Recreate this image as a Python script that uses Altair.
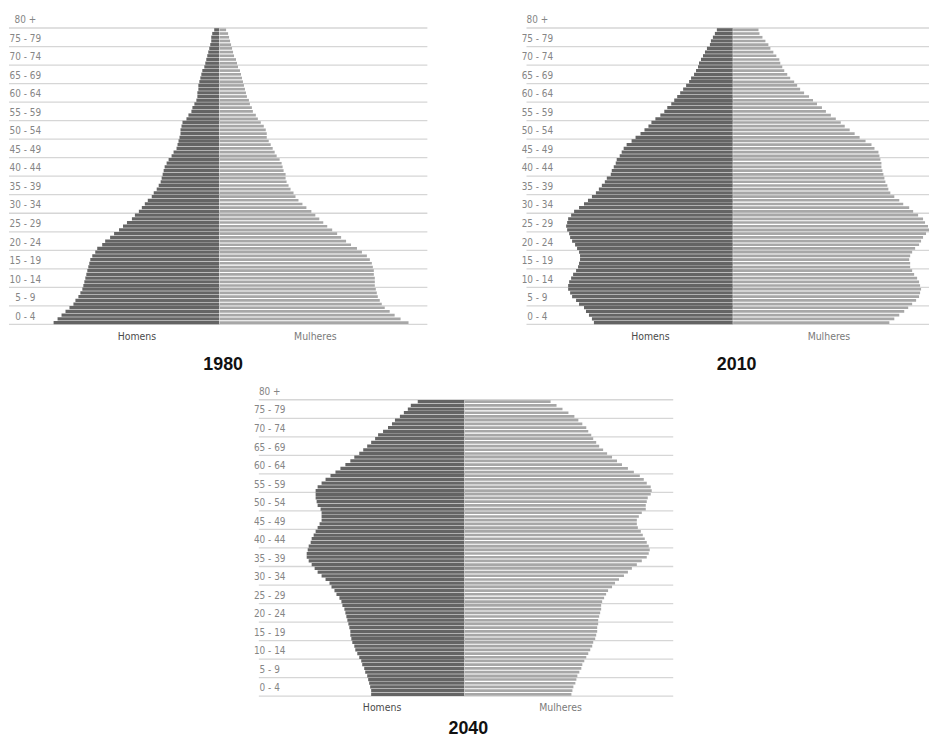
import altair as alt
import pandas as pd

# Age-group labels (bottom to top)
group_labels = ["0 - 4", "5 - 9", "10 - 14", "15 - 19", "20 - 24", "25 - 29", "30 - 34",
                "35 - 39", "40 - 44", "45 - 49", "50 - 54", "55 - 59", "60 - 64",
                "65 - 69", "70 - 74", "75 - 79", "80 +"]
group_low = [0, 5, 10, 15, 20, 25, 30, 35, 40, 45, 50, 55, 60, 65, 70, 75, 80]

# single-year ages, listed from the top bar (age 79) down to age 0
ages_top_down = list(range(79, -1, -1))

years = ["1980", "2010", "2040"]

men_1980 = [5, 7, 8, 8, 9, 10, 11, 12, 13, 14, 15, 17, 18, 19, 20, 21, 21, 22, 22, 23,
            25, 27, 28, 31, 33, 37, 38, 39, 39, 40, 41, 42, 43, 46, 48, 51, 53, 55, 56, 57,
            58, 59, 61, 63, 66, 68, 72, 75, 78, 81, 85, 88, 93, 97, 101, 106, 110, 115, 118, 123,
            125, 128, 130, 131, 132, 133, 134, 135, 136, 137, 138, 140, 142, 145, 147,
            151, 155, 159, 163, 167]
women_1980 = [7, 9, 10, 11, 12, 13, 14, 15, 17, 18, 19, 21, 22, 23, 24, 25, 26, 27, 28, 30,
              31, 33, 34, 37, 39, 42, 45, 47, 48, 48, 50, 52, 54, 56, 58, 61, 63, 64, 65, 67,
              67, 68, 70, 72, 75, 77, 80, 84, 88, 93, 97, 101, 105, 109, 114, 119, 123, 128, 133, 139,
              144, 149, 152, 154, 155, 156, 156, 157, 157, 157, 158, 159, 160, 162, 164,
              167, 172, 177, 183, 191]

men_2010 = [16, 18, 20, 22, 23, 26, 28, 30, 32, 34, 35, 37, 39, 42, 44, 47, 50, 53, 56, 59,
            62, 66, 69, 73, 78, 82, 85, 89, 93, 98, 102, 107, 110, 112, 114, 117, 118, 120, 122, 123,
            127, 129, 132, 135, 138, 142, 146, 150, 155, 160, 163, 166, 167, 168, 167,
            165, 164, 162, 159, 157, 155, 154, 154, 155, 156, 158, 161, 163, 165, 166,
            166, 164, 162, 158, 155, 150, 148, 145, 142, 140]
women_2010 = [26, 27, 30, 33, 36, 38, 41, 44, 47, 48, 50, 52, 55, 58, 62, 65, 68, 72, 77, 81,
              85, 90, 94, 99, 104, 109, 113, 118, 123, 128, 134, 140, 143, 147, 148,
              149, 150, 150, 151, 152, 153, 154, 156, 157, 159, 163, 168, 172, 178, 182,
              187, 192, 194, 197, 198, 195, 192, 190, 188, 184, 181, 179, 178, 179, 179,
              181, 183, 186, 188, 189, 190, 189, 188, 185, 181, 177, 173, 168, 163, 158]

men_2040 = [47, 54, 57, 61, 65, 70, 73, 77, 82, 87, 90, 94, 98, 102, 106, 111, 115, 120, 125, 130,
            135, 140, 144, 148, 150, 150, 150, 149, 148, 145, 144, 144, 144, 146, 148,
            150, 152, 154, 155, 157, 158, 159, 159, 157, 154, 151, 148, 144, 140, 136,
            134, 131, 129, 126, 124, 123, 121, 120, 119, 118, 117, 116, 115, 115, 114,
            113, 111, 110, 108, 106, 104, 103, 101, 100, 98, 97, 96, 95, 94, 94]
women_2040 = [87, 93, 99, 105, 111, 115, 119, 123, 125, 128, 130, 133, 136, 140, 144,
              149, 154, 159, 165, 171, 177, 181, 184, 188, 189, 188, 185, 184, 183, 183,
              179, 176, 174, 174, 175, 178, 180, 182, 184, 186, 187, 186, 184, 179, 174,
              169, 165, 161, 156, 152, 149, 145, 143, 141, 139, 138, 138, 137, 136, 135,
              135, 134, 134, 133, 132, 130, 129, 127, 125, 123, 121, 119, 118, 116, 114,
              113, 112, 110, 109, 108]

sex_labels = ["Homens", "Mulheres"]

LABEL_FONT = "DejaVu Sans Condensed, Liberation Sans Narrow, Roboto, sans-serif"
TITLE_FONT = "Liberation Sans, Roboto, sans-serif"
MEN_COLOR = "#646464"
WOMEN_COLOR = "#a7a7a7"
GRID_COLOR = "#d6d6d6"


def panel(year, men, women, width, height, xdom, ydom, grid_x, label_px, title_y):
    xs = alt.Scale(domain=xdom, nice=False, zero=False)
    ys = alt.Scale(domain=ydom, nice=False, zero=False)

    rows = []
    for a, m, w in zip(ages_top_down, men, women):
        rows.append({"age": a, "sex": sex_labels[0], "v": -m, "v0": 0,
                     "y0": a + 0.06, "y1": a + 0.94})
        rows.append({"age": a, "sex": sex_labels[1], "v": w, "v0": 0.4,
                     "y0": a + 0.14, "y1": a + 0.86})
    bars_df = pd.DataFrame(rows)

    grid_df = pd.DataFrame({"g": [g for g in group_low],
                            "x0": grid_x[0], "x1": grid_x[1]})
    lab_df = pd.DataFrame({"lab": group_labels,
                           "y": [g + 2.1 for g in group_low]})
    sex_df = pd.DataFrame({"lab": sex_labels, "x": [-83, 97], "y": [-3.3, -3.3],
                           "c": ["#4a4a4a", "#7a7a7a"]})
    title_df = pd.DataFrame({"lab": [year], "x": [4], "y": [title_y]})

    grid = alt.Chart(grid_df).mark_rule(color=GRID_COLOR, strokeWidth=1.3).encode(
        x=alt.X("x0:Q", scale=xs, axis=None),
        x2="x1:Q",
        y=alt.Y("g:Q", scale=ys, axis=None),
    )
    bars = alt.Chart(bars_df).mark_rect().encode(
        x=alt.X("v:Q", scale=xs, axis=None),
        x2="v0:Q",
        y=alt.Y("y0:Q", scale=ys, axis=None),
        y2="y1:Q",
        color=alt.Color("sex:N", scale=alt.Scale(domain=sex_labels,
                                                 range=[MEN_COLOR, WOMEN_COLOR]),
                        legend=None),
    )
    labels = alt.Chart(lab_df).mark_text(font=LABEL_FONT, fontSize=10, color="#858585",
                                         align="center", baseline="middle").encode(
        x=alt.value(label_px),
        y=alt.Y("y:Q", scale=ys, axis=None),
        text="lab:N",
    )
    sexes = alt.Chart(sex_df).mark_text(font=LABEL_FONT, fontSize=10.5,
                                        align="center", baseline="middle").encode(
        x=alt.X("x:Q", scale=xs, axis=None),
        y=alt.Y("y:Q", scale=ys, axis=None),
        text="lab:N",
        color=alt.Color("c:N", scale=None),
    )
    title = alt.Chart(title_df).mark_text(font=TITLE_FONT, fontSize=18, fontWeight="bold",
                                          color="#111111", align="center",
                                          baseline="alphabetic").encode(
        x=alt.X("x:Q", scale=xs, axis=None),
        y=alt.Y("y:Q", scale=ys, axis=None),
        text="lab:N",
    )
    return alt.layer(grid, bars, labels, sexes, title).properties(width=width, height=height)


p1 = panel(years[0], men_1980, women_1980, 422, 366, [-212, 210], [-13.38, 84.55],
           [-212, 210], 16.5, -12.3)
p2 = panel(years[1], men_2010, women_2010, 406, 366, [-208, 198], [-13.38, 84.55],
           [-208, 198], 11, -12.3)
p3 = panel(years[2], men_2040, women_2040, 922, 354, [-459.3, 462.7], [-10.17, 84.55],
           [-207.3, 210.7], 263, -10.17)

chart = alt.vconcat(
    alt.hconcat(p1, p2, spacing=94),
    p3,
    spacing=9,
    padding={"left": 0, "top": 0, "right": 0, "bottom": -4},
).configure_view(stroke=None)

chart.save("out.html", embed_options={"renderer": "svg", "actions": False})
